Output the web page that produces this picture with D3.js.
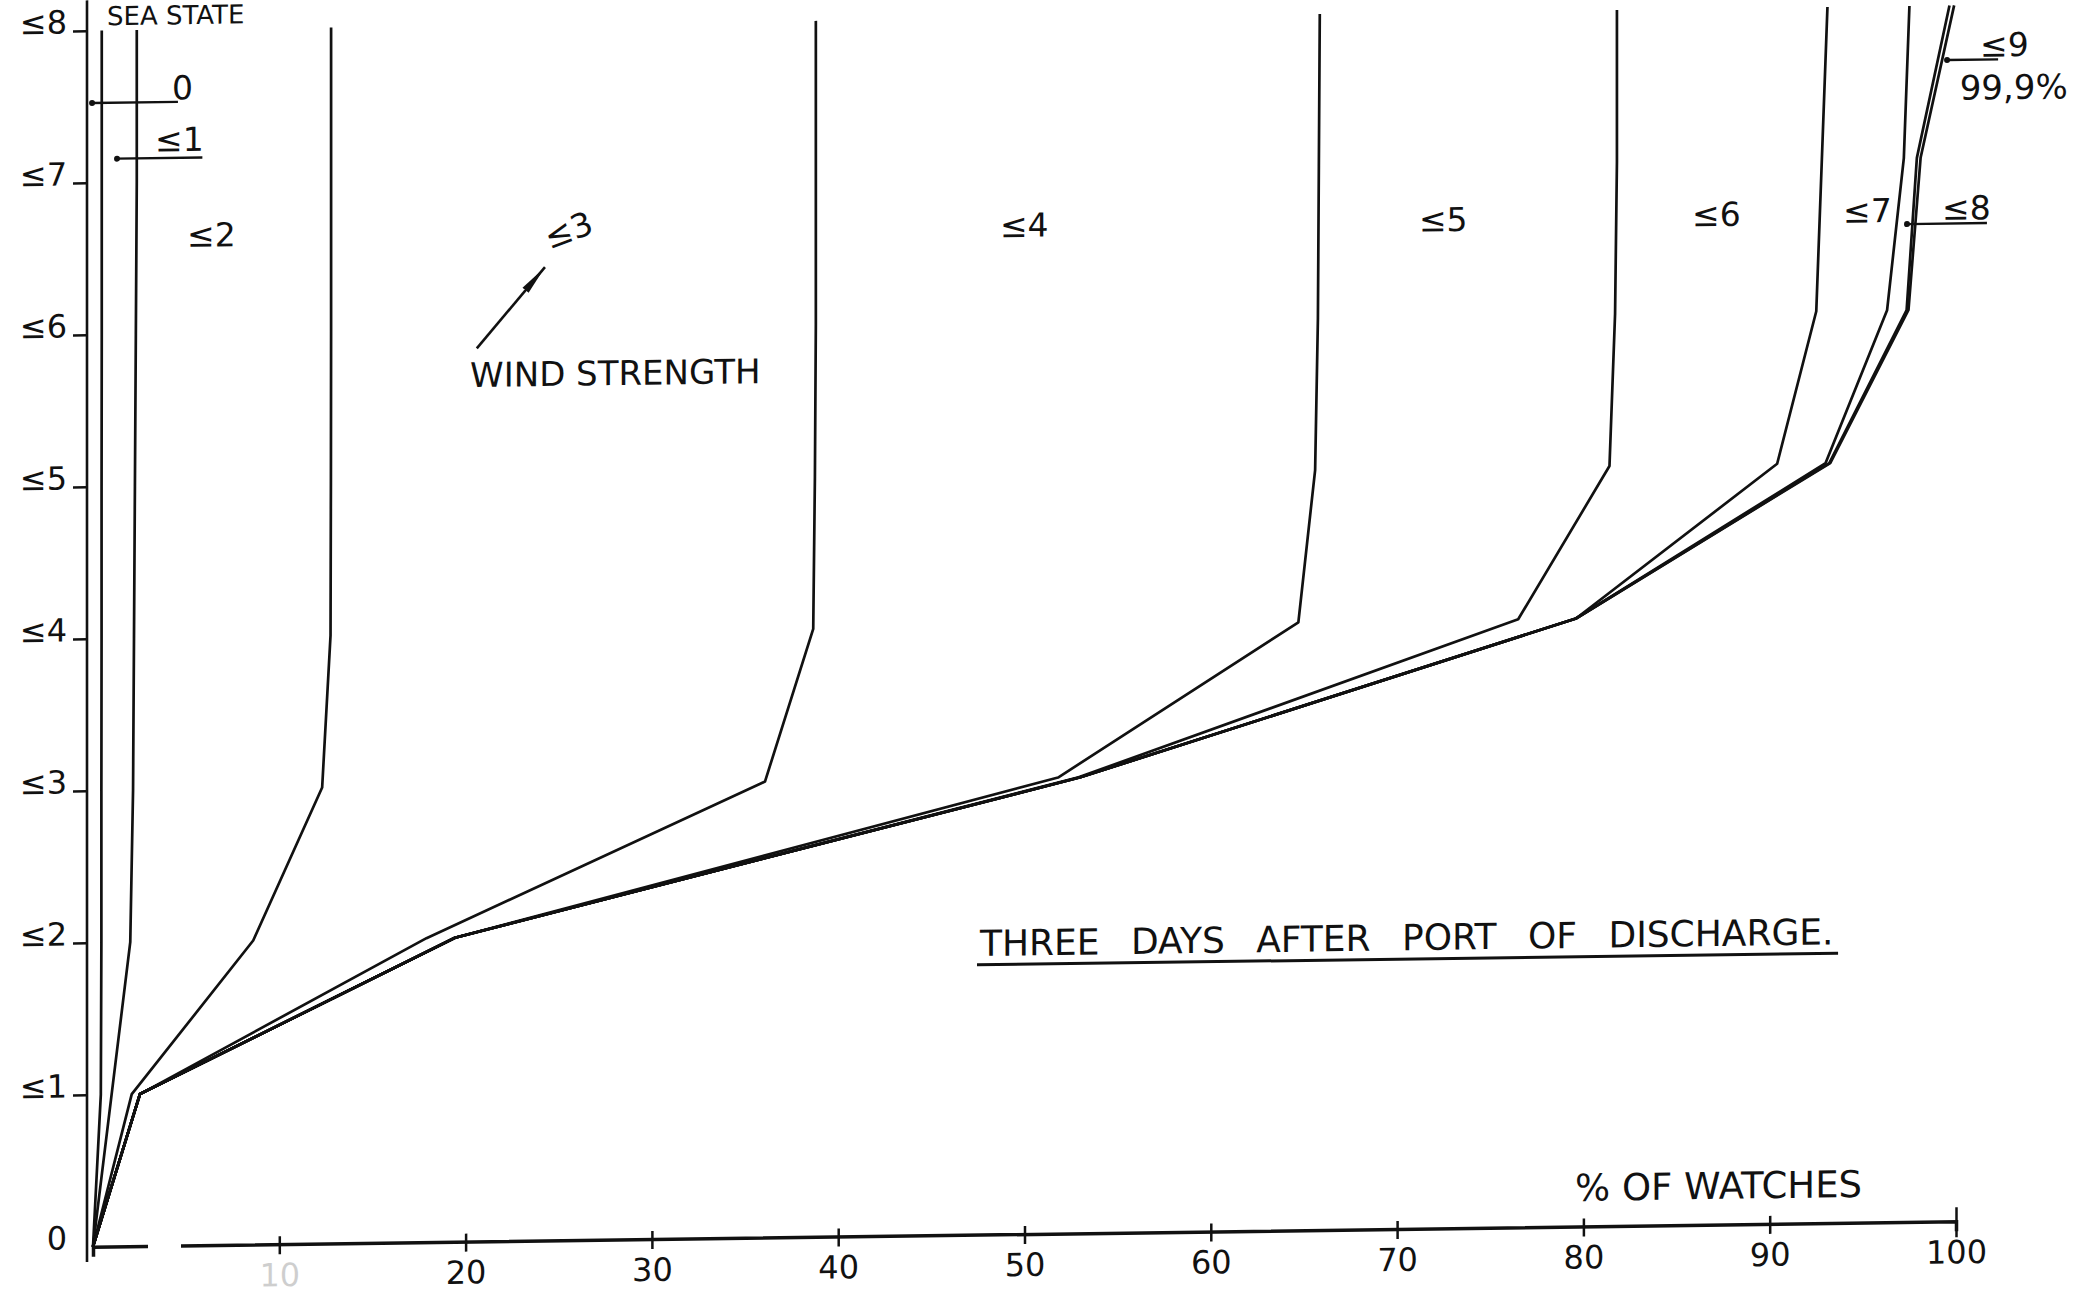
<!DOCTYPE html>
<html>
<head>
<meta charset="utf-8">
<script src="https://cdnjs.cloudflare.com/ajax/libs/d3/7.8.5/d3.min.js"></script>
<style>
  html, body { margin: 0; padding: 0; background: #fff; overflow: hidden; }
  #sea-state-chart text { font-family: 'DejaVu Sans', sans-serif; fill: #111; }
</style>
</head>
<body>
<div id="sea-state-chart"></div>
<script>
// sea state (y) against cumulative % of watches (x), one curve per wind strength
var seaStates = [0, 1, 2, 3, 4, 5, 6, 7, 8];
var seaTickLabels = ['0', '≤1', '≤2', '≤3', '≤4', '≤5', '≤6', '≤7', '≤8'];
var pctTicks = [10, 20, 30, 40, 50, 60, 70, 80, 90, 100];
var windLabels = ['0', '≤1', '≤2', '≤3', '≤4', '≤5', '≤6', '≤7', '≤8', '≤9'];

// % of watches with sea state <= s (s = 0..8), wind strength <= n
var wind0 = [0, 0.42, 0.45, 0.45, 0.46, 0.46, 0.47, 0.47, 0.47];
var wind1 = [0, 1.0, 2.0, 2.15, 2.2, 2.25, 2.3, 2.35, 2.35];
var wind2 = [0, 2.08, 8.6, 12.3, 12.75, 12.77, 12.78, 12.78, 12.78];
var wind3 = [0, 2.52, 17.9, 36.07, 38.66, 38.75, 38.8, 38.8, 38.8];
var wind4 = [0, 2.52, 19.43, 51.8, 64.7, 65.6, 65.75, 65.8, 65.85];
var wind5 = [0, 2.52, 19.43, 52.9, 76.5, 81.4, 81.7, 81.8, 81.8];
var wind6 = [0, 2.52, 19.43, 53.0, 79.6, 90.4, 92.5, 92.8, 93.1];
var wind7 = [0, 2.52, 19.43, 53.0, 79.6, 93.0, 96.3, 97.2, 97.5];
var wind8 = [0, 2.52, 19.43, 53.0, 79.6, 93.2, 97.35, 97.9, 99.65];
var wind9 = [0, 2.52, 19.43, 53.0, 79.6, 93.25, 97.45, 98.1, 99.9];

(function(d3) {
  'use strict';

  var width = 2076, height = 1293;
  var ink = '#111';
  var series = [wind0, wind1, wind2, wind3, wind4, wind5, wind6, wind7, wind8, wind9];

  var x = d3.scaleLinear().domain([0, 100]).range([93, 1956]);
  var y = d3.scaleLinear().domain([0, 8]).range([1246.7, 30.7]);

  // where each curve label sits, in [% , sea state]
  var labelSpots = [[4.24, 7.54], [3.33, 7.2], [5.05, 6.57], [24.5, 6.52], [48.68, 6.56],
                    [71.17, 6.56], [85.83, 6.57], [93.94, 6.58], [99.25, 6.59], [101.29, 7.66]];
  // leader lines under some labels: [from %, to %, sea state]
  var leaders = [[-0.05, 4.56, 7.524], [1.29, 5.87, 7.156], [97.37, 101.66, 6.565], [99.52, 102.26, 7.641]];

  var svg = d3.select('#sea-state-chart')
    .append('svg')
    .attr('width', width)
    .attr('height', height)
    .style('background', '#fff');

  svg.append('defs').append('marker')
    .attr('id', 'arrow-head')
    .attr('viewBox', '0 0 30 10')
    .attr('refX', 30)
    .attr('refY', 5)
    .attr('markerWidth', 30)
    .attr('markerHeight', 10)
    .attr('markerUnits', 'userSpaceOnUse')
    .attr('orient', 'auto')
    .append('path')
    .attr('d', 'M0,1 L30,5 L0,9 Z')
    .attr('fill', ink);

  // the original sheet is drawn a little askew, everything leans up to the right
  var ox = x(0), oy = y(0);
  var plot = svg.append('g')
    .attr('transform', 'translate(' + ox + ',' + oy + ') skewY(-0.78) translate(' + (-ox) + ',' + (-oy) + ')');

  // y axis
  var yAxis = d3.axisLeft(y)
    .tickValues(seaStates)
    .tickSize(14)
    .tickPadding(6)
    .tickFormat(function(d) { return seaTickLabels[d]; });

  var gy = plot.append('g')
    .attr('transform', 'translate(' + (ox - 6) + ',0)')
    .call(yAxis);
  gy.select('.domain').remove();
  gy.selectAll('.tick line')
    .attr('stroke', ink)
    .attr('stroke-width', 2.5)
    .style('display', function(d) { return d === 0 ? 'none' : null; });
  gy.selectAll('.tick text')
    .attr('font-size', 32)
    .attr('dy', 2);

  plot.append('line')
    .attr('x1', ox - 6).attr('x2', ox - 6)
    .attr('y1', y(-0.1)).attr('y2', y(8.2))
    .attr('stroke', ink)
    .attr('stroke-width', 2.6);

  plot.append('text')
    .attr('x', x(0.75))
    .attr('y', y(8.035))
    .attr('font-size', 26)
    .text('SEA STATE');

  // x axis
  var xAxis = d3.axisBottom(x)
    .tickValues(pctTicks)
    .tickSizeOuter(0)
    .tickSize(10)
    .tickPadding(0);

  var gx = plot.append('g')
    .attr('transform', 'translate(0,' + oy + ')')
    .call(xAxis);
  gx.select('.domain')
    .attr('stroke', ink)
    .attr('stroke-width', 3.5)
    .attr('stroke-dasharray', '64 33 4000');
  gx.selectAll('.tick line')
    .attr('stroke', ink)
    .attr('stroke-width', 2.5)
    .attr('y1', function(d) { return d === 100 ? -14 : -8; })
    .attr('y2', function(d) { return d === 100 ? 16 : 10; });
  gx.selectAll('.tick text')
    .attr('y', 42)
    .attr('dy', 0)
    .attr('font-size', 32)
    .style('opacity', function(d) { return d === 10 ? 0.2 : 1; });

  plot.append('text')
    .attr('x', x(79.55))
    .attr('y', y(0.169))
    .attr('font-size', 37)
    .text('% OF WATCHES');

  // curves
  var line = d3.line()
    .x(function(d) { return x(d); })
    .y(function(d, i) { return y(seaStates[i]); });

  plot.selectAll('path.curve')
    .data(series)
    .enter()
    .append('path')
    .attr('class', 'curve')
    .attr('d', line)
    .attr('fill', 'none')
    .attr('stroke', ink)
    .attr('stroke-width', 2.7)
    .attr('stroke-linejoin', 'round');

  // curve labels
  plot.selectAll('text.wind')
    .data(windLabels)
    .enter()
    .append('text')
    .attr('class', 'wind')
    .attr('font-size', 33)
    .attr('transform', function(d, i) {
      var p = labelSpots[i];
      return 'translate(' + x(p[0]) + ',' + y(p[1]) + ')' + (d === '≤3' ? ' rotate(-20)' : '');
    })
    .text(function(d) { return d; });

  plot.append('text')
    .attr('x', x(100.2))
    .attr('y', y(7.378))
    .attr('font-size', 34)
    .text('99,9%');

  var lead = plot.selectAll('g.leader').data(leaders).enter().append('g').attr('class', 'leader');
  lead.append('line')
    .attr('x1', function(d) { return x(d[0]); })
    .attr('x2', function(d) { return x(d[1]); })
    .attr('y1', function(d) { return y(d[2]); })
    .attr('y2', function(d) { return y(d[2]); })
    .attr('stroke', ink)
    .attr('stroke-width', 2.4);
  lead.append('circle')
    .attr('cx', function(d) { return x(d[0]); })
    .attr('cy', function(d) { return y(d[2]); })
    .attr('r', 3)
    .attr('fill', ink);

  // wind strength pointer
  plot.append('line')
    .attr('x1', x(20.6)).attr('y1', y(5.876))
    .attr('x2', x(24.26)).attr('y2', y(6.404))
    .attr('stroke', ink)
    .attr('stroke-width', 2.6)
    .attr('marker-end', 'url(#arrow-head)');

  plot.append('text')
    .attr('x', x(20.24))
    .attr('y', y(5.622))
    .attr('font-size', 34)
    .text('WIND STRENGTH');

  plot.append('text')
    .attr('x', x(47.61))
    .attr('y', y(1.833))
    .attr('font-size', 36)
    .attr('word-spacing', 20)
    .text('THREE DAYS AFTER PORT OF DISCHARGE.');

  plot.append('line')
    .attr('x1', x(47.45)).attr('x2', x(93.67))
    .attr('y1', y(1.775)).attr('y2', y(1.775))
    .attr('stroke', ink)
    .attr('stroke-width', 3);
}(d3));
</script>
</body>
</html>
